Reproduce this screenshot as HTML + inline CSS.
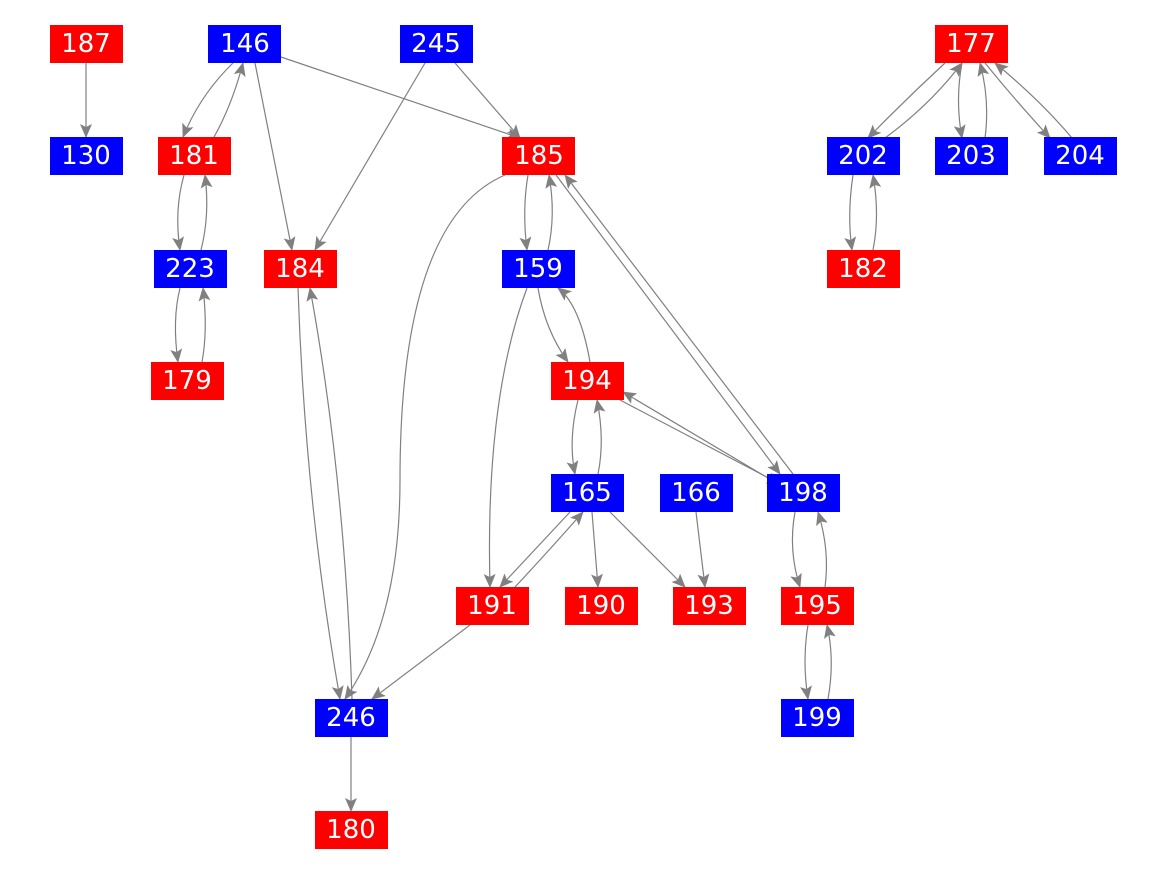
<!DOCTYPE html>
<html><head><style>body{margin:0;background:#fff}svg{display:block}text{font-family:"DejaVu Sans","Liberation Sans",sans-serif;font-size:26px;fill:#fff;text-anchor:middle;dominant-baseline:central}</style></head>
<body>
<svg width="1167" height="875" xmlns="http://www.w3.org/2000/svg">
<defs><marker id="a" markerWidth="14" markerHeight="12" refX="13" refY="6" orient="auto" markerUnits="userSpaceOnUse"><path d="M0,0 L14,6 L0,12 L3,6 z" fill="#808080"/></marker></defs>
<g fill="none" stroke="#808080" stroke-width="1.2" marker-end="url(#a)">
<path d="M86,63 L86,137"/>
<path d="M233,63 Q200,95 183,137"/>
<path d="M214,137 Q232,105 243,63"/>
<path d="M255,63 L292,250"/>
<path d="M281,57 L520,138"/>
<path d="M425,63 L315,250"/>
<path d="M455,63 L520,138"/>
<path d="M184,175 Q174,210 180,250"/>
<path d="M201,250 Q210,215 205,175"/>
<path d="M180,288 Q172,320 178,362"/>
<path d="M202,362 Q208,330 203,288"/>
<path d="M298,288 Q305,500 340,699"/>
<path d="M352,699 Q345,480 310,288"/>
<path d="M505,175 Q400,220 400,480 Q400,620 345,699"/>
<path d="M528,175 Q522,210 527,250"/>
<path d="M548,250 Q556,215 549,175"/>
<path d="M556,175 L780,474"/>
<path d="M793,474 L565,175"/>
<path d="M538,288 Q545,330 568,362"/>
<path d="M590,362 Q580,305 558,288"/>
<path d="M527,288 Q485,400 490,587"/>
<path d="M578,400 Q568,440 575,474"/>
<path d="M598,474 Q605,440 597,400"/>
<path d="M620,400 L780,484"/>
<path d="M768,478 L623,392"/>
<path d="M570,512 L500,587"/>
<path d="M515,587 Q545,555 583,512"/>
<path d="M592,512 L598,587"/>
<path d="M610,512 L685,587"/>
<path d="M696,512 L705,587"/>
<path d="M470,625 L372,699"/>
<path d="M795,512 Q788,550 800,587"/>
<path d="M825,587 Q830,550 818,512"/>
<path d="M808,625 Q802,660 808,699"/>
<path d="M828,699 Q835,660 827,625"/>
<path d="M351,737 L351,811"/>
<path d="M945,63 Q905,100 868,138"/>
<path d="M885,138 Q930,105 962,63"/>
<path d="M962,63 Q955,100 962,138"/>
<path d="M985,138 Q990,100 980,63"/>
<path d="M985,63 Q1015,100 1050,138"/>
<path d="M1072,138 Q1040,100 995,63"/>
<path d="M853,175 Q847,215 852,250"/>
<path d="M873,250 Q880,215 873,175"/>
</g>
<g>
<rect x="50" y="25" width="73" height="38" fill="#f00"/><text x="86" y="44">187</text>
<rect x="208" y="25" width="73" height="38" fill="#00f"/><text x="245" y="44">146</text>
<rect x="400" y="25" width="73" height="38" fill="#00f"/><text x="436" y="44">245</text>
<rect x="935" y="25" width="73" height="38" fill="#f00"/><text x="971" y="44">177</text>
<rect x="50" y="137" width="73" height="38" fill="#00f"/><text x="86" y="156">130</text>
<rect x="158" y="137" width="73" height="38" fill="#f00"/><text x="194" y="156">181</text>
<rect x="502" y="137" width="73" height="38" fill="#f00"/><text x="539" y="156">185</text>
<rect x="827" y="137" width="73" height="38" fill="#00f"/><text x="863" y="156">202</text>
<rect x="935" y="137" width="73" height="38" fill="#00f"/><text x="971" y="156">203</text>
<rect x="1044" y="137" width="73" height="38" fill="#00f"/><text x="1080" y="156">204</text>
<rect x="154" y="250" width="73" height="38" fill="#00f"/><text x="190" y="269">223</text>
<rect x="264" y="250" width="73" height="38" fill="#f00"/><text x="300" y="269">184</text>
<rect x="502" y="250" width="73" height="38" fill="#00f"/><text x="538" y="269">159</text>
<rect x="827" y="250" width="73" height="38" fill="#f00"/><text x="863" y="269">182</text>
<rect x="151" y="362" width="73" height="38" fill="#f00"/><text x="187" y="381">179</text>
<rect x="551" y="362" width="73" height="38" fill="#f00"/><text x="587" y="381">194</text>
<rect x="551" y="474" width="73" height="38" fill="#00f"/><text x="587" y="493">165</text>
<rect x="660" y="474" width="73" height="38" fill="#00f"/><text x="696" y="493">166</text>
<rect x="767" y="474" width="73" height="38" fill="#00f"/><text x="803" y="493">198</text>
<rect x="456" y="587" width="73" height="38" fill="#f00"/><text x="492" y="606">191</text>
<rect x="565" y="587" width="73" height="38" fill="#f00"/><text x="601" y="606">190</text>
<rect x="673" y="587" width="73" height="38" fill="#f00"/><text x="709" y="606">193</text>
<rect x="781" y="587" width="73" height="38" fill="#f00"/><text x="817" y="606">195</text>
<rect x="315" y="699" width="73" height="38" fill="#00f"/><text x="351" y="718">246</text>
<rect x="781" y="699" width="73" height="38" fill="#00f"/><text x="817" y="718">199</text>
<rect x="315" y="811" width="73" height="38" fill="#f00"/><text x="351" y="830">180</text>
</g>
</svg>
</body></html>
